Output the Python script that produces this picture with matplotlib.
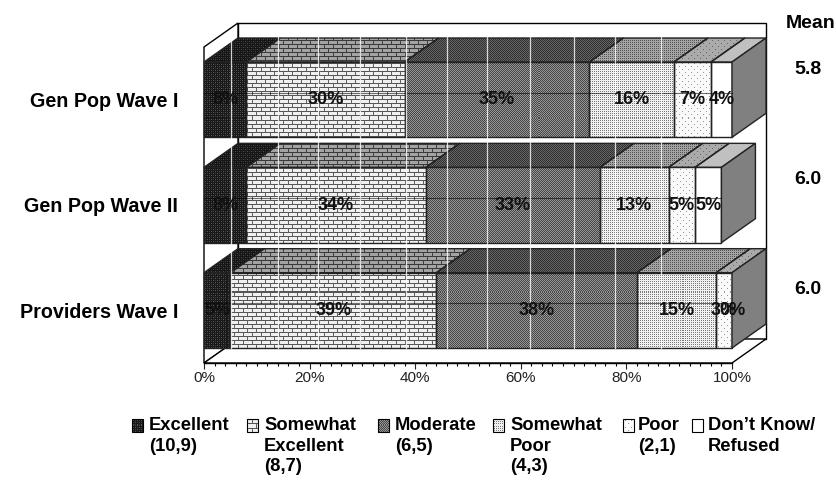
import numpy as np
import matplotlib
matplotlib.use("Agg")
import matplotlib.pyplot as plt
from matplotlib.patches import Polygon, Rectangle
from matplotlib.ticker import MultipleLocator, FuncFormatter

categories = ["Gen Pop Wave I", "Gen Pop Wave II", "Providers Wave I"]
series_names = ["Excellent\n(10,9)", "Somewhat\nExcellent\n(8,7)", "Moderate\n(6,5)",
                "Somewhat\nPoor\n(4,3)", "Poor\n(2,1)", "Don\u2019t Know/\nRefused"]
excellent = [8, 8, 5]
somewhat_excellent = [30, 34, 39]
moderate = [35, 33, 38]
somewhat_poor = [16, 13, 15]
poor = [7, 5, 3]
dont_know = [4, 5, 0]
means = ["5.8", "6.0", "6.0"]
series = [excellent, somewhat_excellent, moderate, somewhat_poor, poor, dont_know]

W, H = 837, 480
FONT = "Liberation Sans"
plt.rcParams["font.family"] = FONT
fig = plt.figure(figsize=(W / 100, H / 100), dpi=100)
# front plane of the 3-D box, in pixels
L, R, T, B = 204, 732, 47, 363
ax = fig.add_axes([L / W, 1 - B / H, (R - L) / W, (B - T) / H])
ax.set_xlim(0, 100)
ax.set_ylim(2.5, -0.5)
ax.set_autoscale_on(False)
ax.patch.set_visible(False)
for s in ["top", "left", "right"]:
    ax.spines[s].set_visible(False)
ax.spines["bottom"].set_linewidth(1.0)

px_x = (R - L) / 100
px_y = (B - T) / 3
DX = 34 / px_x
DY = -24 / px_y
BAR_H = 0.715
full_extent = [-L / px_x, (W - L) / px_x, 2.5 + (H - B) / px_y, -0.5 - T / px_y]


def texture(tile, shade=1.0):
    tile = np.asarray(tile, dtype=float) * shade
    ny = H // tile.shape[0] + 1
    nx = W // tile.shape[1] + 1
    return np.tile(tile, (ny, nx))[:H, :W]


tile_excellent = [[25, 25, 25, 25], [25, 90, 25, 60], [25, 25, 25, 25], [25, 60, 25, 90]]
tile_brick = [[85] * 9,
              [240, 240, 240, 240, 95, 240, 240, 240, 240],
              [240, 240, 240, 240, 95, 240, 240, 240, 240],
              [240, 240, 240, 240, 95, 240, 240, 240, 240],
              [85] * 9,
              [95, 240, 240, 240, 240, 240, 240, 240, 240],
              [95, 240, 240, 240, 240, 240, 240, 240, 240],
              [95, 240, 240, 240, 240, 240, 240, 240, 240]]
tile_moderate = [[70, 150], [150, 70]]
tile_spoor = [[120, 245], [245, 235]]
tile_poor = [[250, 250, 250, 250, 250, 250], [250, 150, 250, 250, 250, 250], [250, 250, 250, 250, 250, 250],
             [250, 250, 250, 250, 250, 250], [250, 250, 250, 250, 150, 250], [250, 250, 250, 250, 250, 250]]
tile_white = [[255]]
tiles = [tile_excellent, tile_brick, tile_moderate, tile_spoor, tile_poor, tile_white]
top_shade = [0.85, 0.68, 0.68, 0.68, 0.68, 0.75]
front_tex = [texture(t) for t in tiles]
top_tex = [texture(t, s) for t, s in zip(tiles, top_shade)]


def fill(patch, img, z):
    im = ax.imshow(img, extent=full_extent, cmap="gray", vmin=0, vmax=255, aspect="auto",
                   interpolation="nearest", zorder=z)
    im.set_clip_box(fig.bbox)
    im.set_clip_path(patch)


# walls and floor
y_top, y_bot = -0.5, 2.5
wall = dict(facecolor="white", edgecolor="black", linewidth=1.0, clip_on=False, zorder=1)
ax.add_patch(Rectangle((DX, y_top + DY), 100, 3, **wall))
ax.add_patch(Polygon([(0, y_top), (DX, y_top + DY), (DX, y_bot + DY), (0, y_bot)], **wall))
ax.add_patch(Polygon([(0, y_bot), (DX, y_bot + DY), (100 + DX, y_bot + DY), (100, y_bot)], **wall))

# stacked bars with depth
edge = dict(edgecolor="#222222", linewidth=1.0, clip_on=False)
for r, cat in enumerate(categories):
    y0, y1 = r - BAR_H / 2, r + BAR_H / 2
    left = 0
    for k, vals in enumerate(series):
        v = vals[r]
        if v > 0:
            bar = ax.barh(r, v, left=left, height=BAR_H, facecolor="none", zorder=4, **edge)[0]
            fill(bar, front_tex[k], 3)
            top = Polygon([(left, y0), (left + DX, y0 + DY), (left + v + DX, y0 + DY), (left + v, y0)],
                          facecolor="none", zorder=4, **edge)
            ax.add_patch(top)
            fill(top, top_tex[k], 3)
        left += v
    ax.add_patch(Polygon([(left, y0), (left + DX, y0 + DY), (left + DX, y1 + DY), (left, y1)],
                         facecolor="#808080", zorder=4, **edge))
    ax.plot([0, left], [r - 7 / px_y] * 2, color="black", lw=0.8, alpha=0.55, zorder=5, clip_on=False)

# pale vertical streaks crossing the bars
streaks = [5.1, 14, 21.6, 29.5, 38.3, 46, 53.6, 61.7, 70, 77.8, 86.6]
for x in streaks:
    ax.plot([x, x], [-0.5 + DY * 0.42, 2.36], color="white", lw=0.9, alpha=0.8, zorder=5, clip_on=False)

# data labels
for r in range(3):
    left = 0
    for vals in series:
        v = vals[r]
        ax.text(left + v / 2, r, f"{v}%", ha="center", va="center", fontsize=13, fontweight="bold",
                color="#111111", zorder=7, clip_on=False)
        left += v

# axes
ax.xaxis.set_major_locator(MultipleLocator(20))
ax.xaxis.set_minor_locator(MultipleLocator(2))
ax.xaxis.set_major_formatter(FuncFormatter(lambda v, p: f"{v:.0f}%"))
ax.tick_params(axis="x", which="major", length=4.5, width=0.8, labelsize=11, pad=1.5, colors="#222222")
ax.tick_params(axis="x", which="minor", length=2.5, width=0.8)
ax.set_yticks(range(3), categories)
ax.tick_params(axis="y", length=0, pad=18.7, labelsize=14.2)
for t in ax.get_yticklabels():
    t.set_fontweight("bold")


def ftext(x, y, s, **kw):
    fig.text(x / W, 1 - y / H, s, fontweight="bold", color="black", **kw)


# mean column
ftext(811, 24, "Mean", fontsize=14, ha="center", va="center")
for m, y in zip(means, [69, 179, 289]):
    ftext(808, y, m, fontsize=14, ha="center", va="center")

# legend
swatch_x = [132, 247, 378, 493, 623, 692]
text_x = [149, 264, 395, 510, 638, 708]
for k, name in enumerate(series_names):
    xa = (swatch_x[k] - L) / px_x
    ya = (419 - T) / px_y - 0.5
    rect = Rectangle((xa, ya), 11 / px_x, 13 / px_y, facecolor="none", edgecolor="black",
                     linewidth=0.8, clip_on=False, zorder=4)
    ax.add_patch(rect)
    fill(rect, front_tex[k], 3)
    ftext(text_x[k], 417, name, fontsize=13.2, ha="left", va="top", linespacing=1.28)

fig.savefig("out.png", dpi=100)
